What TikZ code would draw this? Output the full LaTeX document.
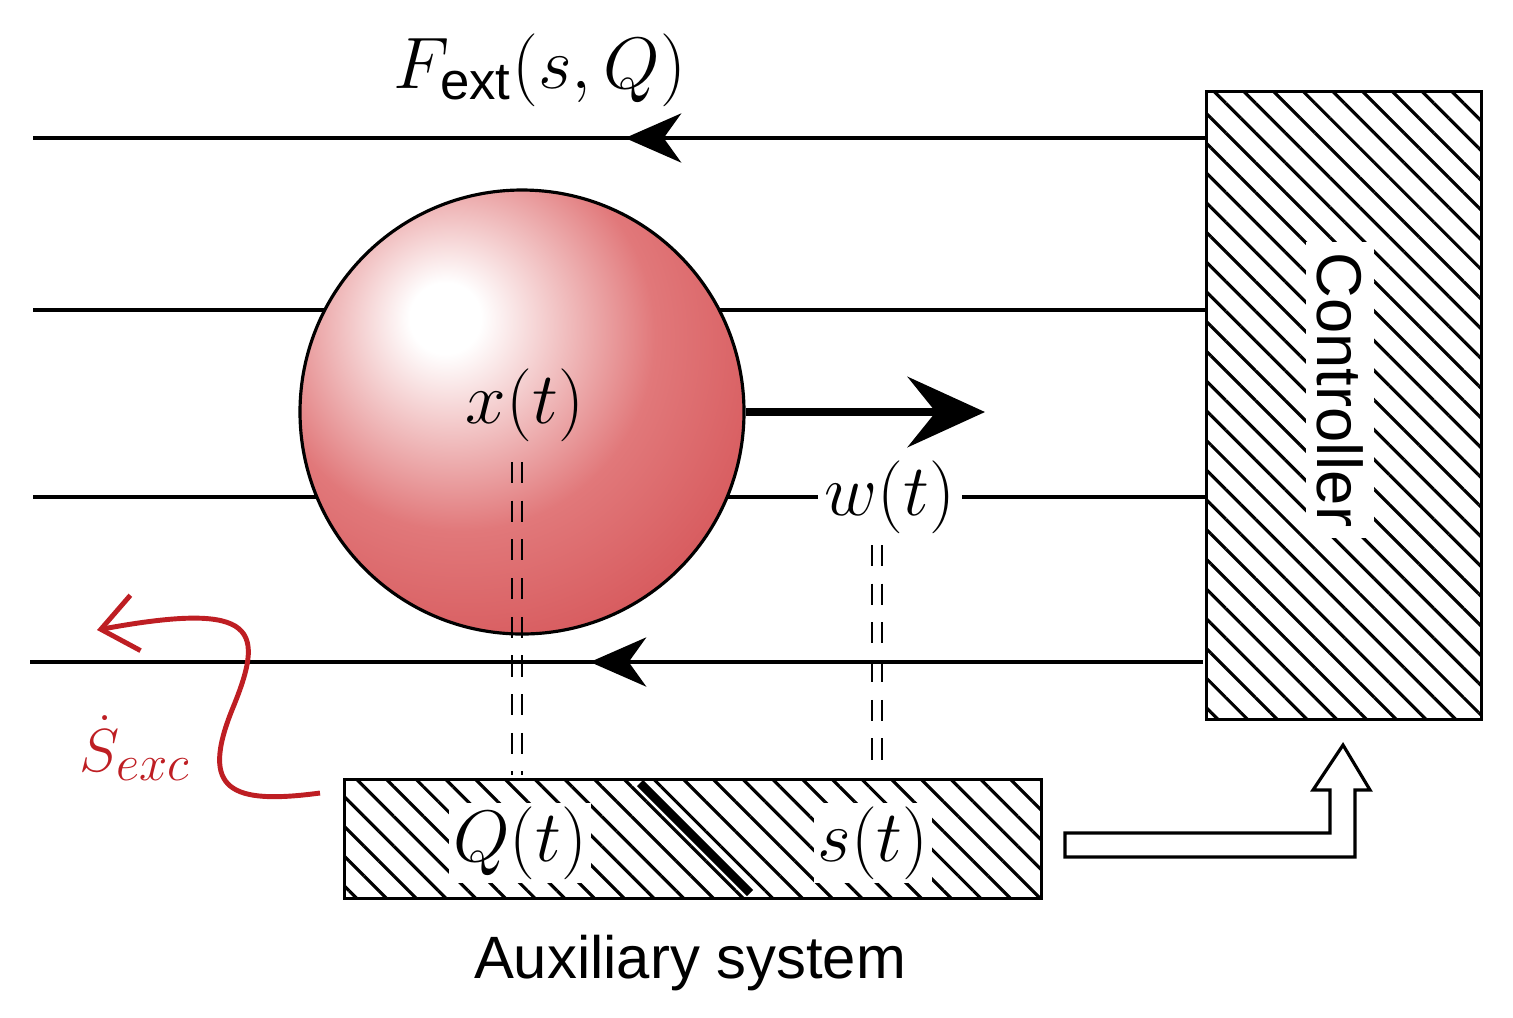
\documentclass[tikz,border=0pt]{standalone}
\usepackage{fontspec}
\newfontfamily\sansf{Liberation Sans}
\usetikzlibrary{arrows.meta,patterns.meta}
\definecolor{dred}{RGB}{190,30,35}
\definecolor{balledge}{RGB}{200,45,50}
\definecolor{ballmid}{RGB}{225,120,122}
\pgfdeclareradialshading{redball}{\pgfpoint{-9bp}{11bp}}{color(0bp)=(white); color(4bp)=(white); color(22bp)=(ballmid); color(55bp)=(balledge); color(100bp)=(balledge)}
\tikzset{
  wire/.style={line width=0.9pt},
  hatchbox/.style={draw, line width=0.9pt, pattern={Lines[angle=-45,distance=0.21cm,line width=0.9pt]}},
  dd/.style={line width=0.8pt, dash pattern=on 6pt off 5pt},
  lab/.style={font=\fontsize{21}{25}\selectfont},
}
\begin{document}
\begin{tikzpicture}[x=0.01cm,y=-0.01cm]
\useasboundingbox (0,0) rectangle (1513,1017);
% controller
\node[hatchbox, minimum width=275*0.01cm, minimum height=628*0.01cm, inner sep=0, anchor=north west] (ctrl) at (1205,90) {};
\node[fill=white, rotate=-90, font=\sansf\fontsize{18}{22}\selectfont, inner sep=3pt] at (1340,390) {Controller};
% auxiliary
\node[hatchbox, minimum width=697*0.01cm, minimum height=119*0.01cm, inner sep=0, anchor=north west] (aux) at (343,778) {};
\draw[line width=2.5pt] (640,783) -- (750,893);
% lines
\coordinate (l1a) at (33,138); \coordinate (l1b) at (1205,138);
\coordinate (l2a) at (33,310); \coordinate (l2b) at (1205,310);
\coordinate (l3a) at (33,497); \coordinate (l3b) at (1205,497);
\coordinate (l4a) at (30,662); \coordinate (l4b) at (1203,662);
\draw[wire] (l1b) -- (l1a);
\draw[wire] (l2b) -- (l2a);
\draw[wire] (l3b) -- (l3a);
\draw[wire] (l4b) -- (l4a);
\draw[wire, -{Stealth[length=16pt,width=14pt,inset=5pt]}] (700,138) -- (625,138);
\draw[wire, -{Stealth[length=16pt,width=14pt,inset=5pt]}] (680,662) -- (590,662);
% ball
\node[circle, draw, line width=0.9pt, shading=redball, minimum size=444*0.01cm, inner sep=0] (ball) at (522,412) {};
\node[lab] (x) at (525,405) {$x(t)$};
\draw[line width=2.4pt, -{Stealth[length=22pt,width=20pt,inset=8pt]}] (ball.east) -- (985,412);
\node[lab, fill=white, inner sep=2pt] (w) at (890,497) {$w(t)$};
\node[lab, fill=white, inner sep=1pt] (Q) at (520,843) {$Q(t)$};
\node[lab, fill=white, inner sep=1pt] (s) at (873,843) {$s(t)$};
\draw[dd] (512,462) -- (512,775);
\draw[dd] (522,462) -- (522,775);
\draw[dd] (872,545) -- (872,760);
\draw[dd] (882,545) -- (882,760);
% labels
\node[lab] (F) at (540,70) {$F_{\hbox{\sansf\fontsize{15}{18}\selectfont ext}}(s,Q)$};
\node[font=\sansf\fontsize{17}{21}\selectfont] (auxlab) at (690,963) {Auxiliary system};
% hollow arrow
\draw[line width=0.9pt, fill=white] (1065,833) -- (1330,833) -- (1330,790) -- (1313,790) -- (1343,745) -- (1370,790) -- (1355,790) -- (1355,857) -- (1065,857) -- cycle;
% red wavy arrow
\draw[dred, line width=1.4pt, -{Straight Barb[length=10pt,width=16pt]}] (320,793) .. controls (230,805) and (200,790) .. (232,710) .. controls (265,630) and (260,600) .. (97,630);
\node[lab, text=dred, font=\fontsize{19}{23}\selectfont] (S) at (135,748) {$\dot S_{exc}$};
\end{tikzpicture}
\end{document}
